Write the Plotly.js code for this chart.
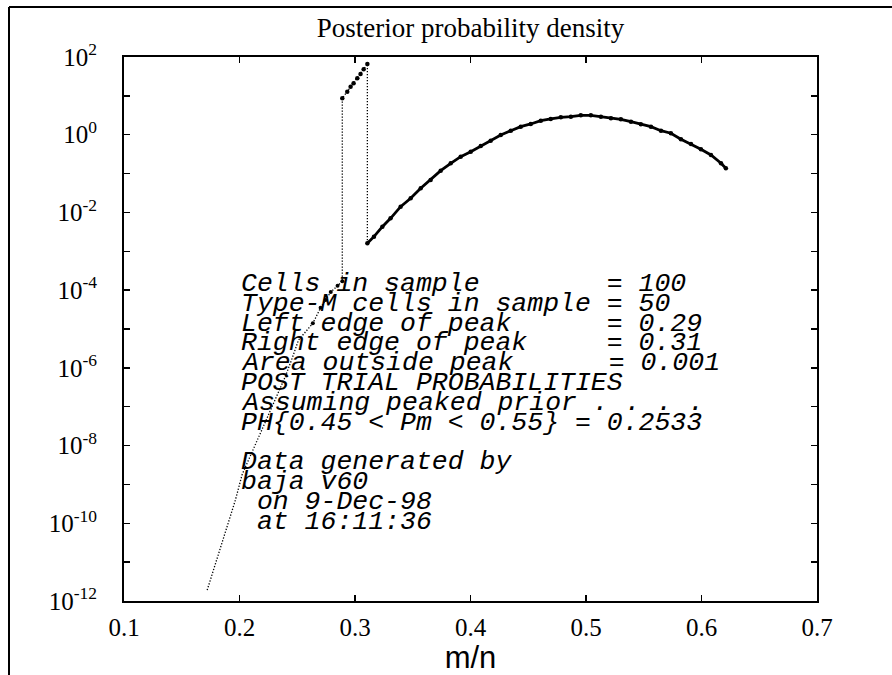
<!DOCTYPE html>
<html>
<head>
<meta charset="utf-8">
<script src="https://cdn.plot.ly/plotly-3.0.1.min.js"></script>
<style>html,body{margin:0;padding:0;background:#fff;}</style>
</head>
<body>
<div id="chart" style="width:892px;height:675px;"></div>
<script>
// ---- data ----
// left tail (below the peak), drawn as a dotted line
const tailX = [0.1720, 0.1965, 0.2023, 0.2251, 0.2327, 0.2399, 0.2457, 0.2511, 0.2635, 0.2702, 0.2745, 0.2790, 0.2849, 0.2890];
const tailY = [1.9e-12, 4.0e-10, 1.8e-9, 6.2e-8, 2.0e-7, 6.2e-7, 1.8e-6, 5.2e-6, 1.4e-5, 3.5e-5, 5.6e-5, 8.9e-5, 1.3e-4, 1.7e-4];
// the peak between the left and right edges
const peakX = [0.2890, 0.2933, 0.2962, 0.2988, 0.3020, 0.3048, 0.3075, 0.3107];
const peakY = [8.65, 12.8, 17.2, 21.0, 28.3, 36.6, 48.2, 66.1];
// the broad hump outside the peak
const humpX = [0.3107, 0.3164, 0.3237, 0.3308, 0.3395, 0.3482, 0.3569, 0.3655, 0.3742, 0.3829,
               0.3915, 0.4002, 0.4089, 0.4175, 0.4262, 0.4349, 0.4435, 0.4522, 0.4609, 0.4695,
               0.4782, 0.4869, 0.4955, 0.5042, 0.5129, 0.5216, 0.5302, 0.5389, 0.5475, 0.5562,
               0.5649, 0.5735, 0.5822, 0.5909, 0.5995, 0.6082, 0.6169, 0.6211];
const humpY = [1.61e-3, 2.38e-3, 4.30e-3, 7.06e-3, 1.41e-2, 2.31e-2, 4.18e-2, 6.84e-2, 0.119, 0.184,
               0.272, 0.366, 0.513, 0.701, 0.984, 1.27, 1.61, 1.89, 2.30, 2.54,
               2.81, 2.91, 3.16, 3.16, 2.91, 2.65, 2.49, 2.16, 1.85, 1.61,
               1.27, 1.09, 0.762, 0.577, 0.422, 0.301, 0.184, 0.137];
const tailMarkFrom = 0.263;   // tail points drawn with markers from this x on

const xTicks = [0.1, 0.2, 0.3, 0.4, 0.5, 0.6, 0.7];
const xTickLabels = ['0.1', '0.2', '0.3', '0.4', '0.5', '0.6', '0.7'];
const yExponents = [2, 1, 0, -1, -2, -3, -4, -5, -6, -7, -8, -9, -10, -11, -12];

const infoLines = [
  'Cells in sample        = 100',
  'Type-M cells in sample = 50',
  'Left edge of peak      = 0.29',
  'Right edge of peak     = 0.31',
  'Area outside peak      = 0.001',
  'POST TRIAL PROBABILITIES',
  'Assuming peaked prior . . . .',
  'PH{0.45 < Pm < 0.55} = 0.2533',
  '',
  'Data generated by',
  'baja v60',
  ' on 9-Dec-98',
  ' at 16:11:36'
];

// ---- build ----
const allX = tailX.concat(peakX, humpX);
const allY = tailY.concat(peakY, humpY);

const tmX = [], tmY = [];
tailX.forEach((v, i) => { if (v >= tailMarkFrom) { tmX.push(v); tmY.push(tailY[i]); } });

const traces = [
  { x: allX, y: allY, mode: 'lines', line: { color: '#000', width: 1.3, dash: '1.3px,1.7px' }, hoverinfo: 'skip' },
  { x: tmX, y: tmY, mode: 'markers', marker: { color: '#000', size: 4 } },
  { x: peakX, y: peakY, mode: 'markers', marker: { color: '#000', size: 4.5 } },
  { x: humpX, y: humpY, mode: 'lines+markers', line: { color: '#000', width: 2.8 }, marker: { color: '#000', size: 4.5 } }
];

const yTickVals = yExponents.map(e => Math.pow(10, e));
const yTickText = yExponents.map(e => (e % 2 === 0) ? '10<sup>' + e + '</sup>' : '');

const L = 124, R = 75, T = 57, B = 74, W = 892, H = 675;
const pw = W - L - R, ph = H - T - B;
const px2x = p => (p - L) / pw;
const py2y = p => (H - B - p) / ph;

const annotations = [];
infoLines.forEach((t, i) => {
  if (!t) return;
  annotations.push({
    xref: 'paper', yref: 'paper', x: px2x(239), y: py2y(284 + i * 19.8),
    xanchor: 'left', yanchor: 'middle', showarrow: false,
    text: t.replace(/ /g, '\u00a0'),
    font: { family: 'Liberation Mono', size: 26.5, color: '#000', style: 'italic' }
  });
});

const layout = {
  width: W, height: H,
  margin: { l: L, r: R, t: T, b: B, pad: 0 },
  paper_bgcolor: '#fff', plot_bgcolor: '#fff',
  showlegend: false,
  title: {
    text: 'Posterior probability density',
    font: { family: 'Liberation Serif', size: 27, color: '#000' },
    x: 0.5, xref: 'paper', xanchor: 'center',
    y: 1 - 28 / H, yref: 'container', yanchor: 'middle'
  },
  xaxis: {
    range: [0.1, 0.7], tickvals: xTicks, ticktext: xTickLabels,
    ticks: 'inside', ticklen: 6, tickwidth: 1.5, tickcolor: '#000',
    showline: true, linecolor: '#000', linewidth: 2, mirror: 'ticks',
    showgrid: false, zeroline: false, ticklabelstandoff: 3,
    tickfont: { family: 'Liberation Serif', size: 25, color: '#000' },
    title: { text: 'm/n', font: { family: 'Liberation Sans', size: 31, color: '#000' }, standoff: 4 }
  },
  yaxis: {
    type: 'log', range: [-12, 2], tickvals: yTickVals, ticktext: yTickText,
    ticks: 'inside', ticklen: 6, tickwidth: 1.5, tickcolor: '#000',
    showline: true, linecolor: '#000', linewidth: 2, mirror: 'ticks',
    showgrid: false, zeroline: false, ticklabelstandoff: 20,
    tickfont: { family: 'Liberation Serif', size: 25, color: '#000' }
  },
  shapes: [
    { type: 'line', xref: 'paper', yref: 'paper', x0: px2x(9), x1: px2x(9), y0: py2y(680), y1: py2y(7), line: { color: '#000', width: 2 } },
    { type: 'line', xref: 'paper', yref: 'paper', x0: px2x(9), x1: px2x(900), y0: py2y(7), y1: py2y(7), line: { color: '#000', width: 2 } }
  ],
  annotations: annotations
};

Plotly.newPlot('chart', traces, layout, { displayModeBar: false, staticPlot: true });
</script>
</body>
</html>
